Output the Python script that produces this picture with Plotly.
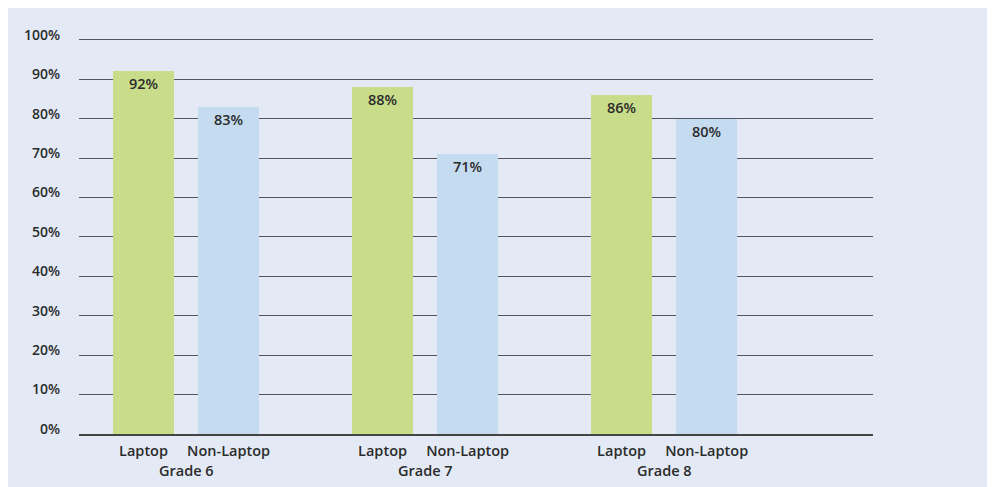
import plotly.graph_objects as go

grades = ["Grade 6", "Grade 7", "Grade 8"]
laptop = [92, 88, 86]
non_laptop = [83, 71, 80]
y_ticks = [0, 10, 20, 30, 40, 50, 60, 70, 80, 90, 100]
series_names = ["Laptop", "Non-Laptop"]

offset = 0.178
bar_w = 0.255
gx = list(range(len(grades)))
x_lap = [g - offset for g in gx]
x_non = [g + offset for g in gx]

font_family = "Open Sans, Noto Sans, sans-serif"
txt_color = "#2b2b2b"
lab_font = dict(family=font_family, size=14.5, color=txt_color, weight=600)

fig = go.Figure()
fig.add_trace(go.Bar(
    x=x_lap, y=laptop, width=bar_w, name=series_names[0],
    marker=dict(color="#c8dc8a", line=dict(width=0)),
    text=[f"{v}%" for v in laptop], textposition="inside", insidetextanchor="end",
    textangle=0, constraintext="none",
    textfont=dict(family=font_family, size=14.5, color=txt_color, weight=600),
))
fig.add_trace(go.Bar(
    x=x_non, y=non_laptop, width=bar_w, name=series_names[1],
    marker=dict(color="#c5dbf0", line=dict(width=0)),
    text=[f"{v}%" for v in non_laptop], textposition="inside", insidetextanchor="end",
    textangle=0, constraintext="none",
    textfont=dict(family=font_family, size=14.5, color=txt_color, weight=600),
))

for i, g in enumerate(grades):
    fig.add_annotation(x=gx[i], y=0, xref="x", yref="y", text=g, showarrow=False,
                       yshift=-36, font=lab_font)

fig.update_layout(
    width=995, height=487,
    margin=dict(l=71, r=130, t=28, b=61),
    paper_bgcolor="#e3eaf5", plot_bgcolor="rgba(0,0,0,0)",
    showlegend=False, bargap=0,
    font=dict(family=font_family, size=14, color=txt_color),
)
fig.update_xaxes(
    range=[-0.448, 2.874], tickvals=x_lap + x_non,
    ticktext=[series_names[0]] * 3 + [series_names[1]] * 3,
    showgrid=False, zeroline=False, showline=True, linecolor="#444", linewidth=2,
    ticks="", ticklabelstandoff=3,
    tickfont=lab_font,
)
fig.update_yaxes(
    range=[0, 101], tickvals=y_ticks, ticktext=[f"{v}%" for v in y_ticks],
    showgrid=True, gridcolor="#555560", gridwidth=1, zeroline=False,
    ticks="", ticklabelstandoff=18, ticklabelshift=-5,
    tickfont=dict(family=font_family, size=14, color=txt_color, weight=600),
)
fig.write_html("out.html")
